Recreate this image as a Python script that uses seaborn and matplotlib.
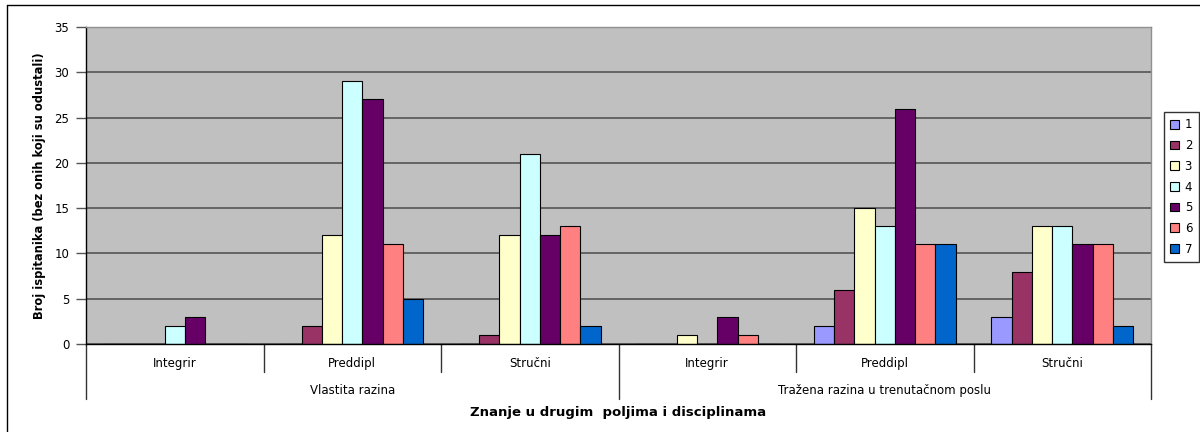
import numpy as np
import pandas as pd
import seaborn as sns
import matplotlib.pyplot as plt
import matplotlib.transforms as mtransforms
from matplotlib.lines import Line2D

sns.set_theme(style="white")
plt.rcParams['font.family'] = ['DejaVu Sans']
plt.rcParams['text.color'] = 'black'
plt.rcParams['axes.labelcolor'] = 'black'
plt.rcParams['ytick.color'] = 'black'

# podaci
grupe = ['Vlastita razina', 'Tražena razina u trenutačnom poslu']
razine = ['Integrir', 'Preddipl', 'Stručni']
serije = ['1', '2', '3', '4', '5', '6', '7']
s1 = [0, 0, 0, 0, 2, 3]
s2 = [0, 2, 1, 0, 6, 8]
s3 = [0, 12, 12, 1, 15, 13]
s4 = [2, 29, 21, 0, 13, 13]
s5 = [3, 27, 12, 3, 26, 11]
s6 = [0, 11, 13, 1, 11, 11]
s7 = [0, 5, 2, 0, 11, 2]
boje = ['#9999FF', '#993366', '#FFFFCC', '#CCFFFF', '#660066', '#FF8080', '#0066CC']

kljucevi = [g + '|' + r for g in grupe for r in razine]
vrijednosti = [s1, s2, s3, s4, s5, s6, s7]
rows = []
for s, vals in zip(serije, vrijednosti):
    for k, v in zip(kljucevi, vals):
        rows.append({'kat': k, 'serija': s, 'broj': v})
df = pd.DataFrame(rows)

fig = plt.figure(figsize=(12, 4.32), dpi=100)
ax = fig.add_axes([86/1200, 1-344/432, (1151-86)/1200, (344-27)/432])

sns.barplot(data=df, x='kat', y='broj', hue='serija', order=kljucevi, hue_order=serije,
            palette=boje, saturation=1, width=0.8, edgecolor='black', linewidth=0.8,
            errorbar=None, ax=ax)

ax.set_facecolor('#C0C0C0')
ax.set_ylim(0, 35)
ax.set_xlim(-0.5, 5.5)
ax.set_yticks(range(0, 36, 5))
ax.yaxis.grid(True, color='#555555', lw=1.2)
ax.set_axisbelow(True)
for side in ['left', 'bottom']:
    ax.spines[side].set_color('black')
    ax.spines[side].set_linewidth(1)
for side in ['top', 'right']:
    ax.spines[side].set_color('#909090')
    ax.spines[side].set_linewidth(1)
ax.tick_params(axis='y', left=True, length=7, width=1, color='#555555', labelsize=8.5, pad=5)
ax.tick_params(axis='x', bottom=False, labelbottom=False)
ax.set_xlabel('')
ax.set_ylabel('Broj ispitanika (bez onih koji su odustali)', fontsize=8.3, fontweight='bold', labelpad=6)

# kategorije u dva reda
tr = mtransforms.blended_transform_factory(ax.transData, ax.transAxes)
for i, k in enumerate(kljucevi):
    ax.text(i, -0.063, k.split('|')[1], transform=tr, ha='center', va='center', fontsize=8.5)
for gi, g in enumerate(grupe):
    ax.text(gi*3 + 1, -0.148, g, transform=tr, ha='center', va='center', fontsize=8.5)
for xb in np.arange(-0.5, 6, 1.0):
    kraj = -0.173 if xb in (-0.5, 2.5, 5.5) else -0.088
    ax.add_line(Line2D([xb, xb], [0, kraj], transform=tr, color='#333333', lw=1, clip_on=False))
ax.text(0.5, -0.215, 'Znanje u drugim  poljima i disciplinama', transform=ax.transAxes,
        ha='center', va='center', fontsize=9.5, fontweight='bold')

# legenda
handles, labels = ax.get_legend_handles_labels()
ax.get_legend().remove()
leg = fig.legend(handles, labels, loc='upper left', bbox_to_anchor=(1164/1200, 1-112/432),
                 frameon=True, fancybox=False, edgecolor='black', fontsize=8.5,
                 handlelength=0.75, handleheight=0.75, handletextpad=0.45,
                 labelspacing=0.65, borderpad=0.55, borderaxespad=0)
leg.get_frame().set_linewidth(1)

# okvir
fig.add_artist(Line2D([7/1200, 7/1200], [0, 1-5/432], transform=fig.transFigure, color='black', lw=1))
fig.add_artist(Line2D([7/1200, 1], [1-5/432, 1-5/432], transform=fig.transFigure, color='black', lw=1))

fig.savefig('out.png', dpi=100)
